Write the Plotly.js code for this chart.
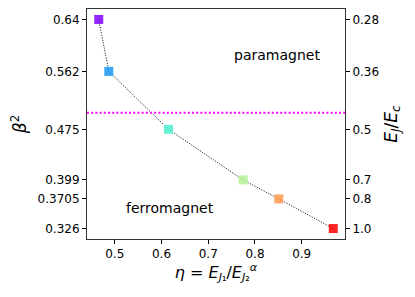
<!DOCTYPE html>
<html>
<head>
<meta charset="utf-8">
<script src="https://cdn.plot.ly/plotly-3.0.1.min.js"></script>
<style>html,body{margin:0;padding:0;background:#fff;}#chart{width:415px;height:297px;}</style>
</head>
<body>
<div id="chart"></div>
<script>
const eta = [0.4657, 0.4872, 0.615, 0.7747, 0.851, 0.9675];
const beta2 = [0.64, 0.562, 0.475, 0.399, 0.3705, 0.326];
const beta2Labels = ["0.64", "0.562", "0.475", "0.399", "0.3705", "0.326"];
const ejecLabels = ["0.28", "0.36", "0.5", "0.7", "0.8", "1.0"];
const colors = ["#8000ff", "#1996f3", "#4cf2ce", "#b2f295", "#ff964f", "#ff0000"];
const xTicks = [0.5, 0.6, 0.7, 0.8, 0.9];
const boundary = 0.5;

const font = "DejaVu Sans, sans-serif";
const yRange = [0.3103, 0.6557];

const traces = [
  {
    x: eta, y: beta2, type: "scatter", mode: "lines",
    line: {color: "#000", width: 1, dash: "1px,1.6px"},
    hoverinfo: "skip", showlegend: false
  },
  {
    x: eta, y: beta2, type: "scatter", mode: "markers",
    marker: {symbol: "square", size: 9, color: colors, opacity: 0.85, line: {width: 0}},
    showlegend: false
  },
  {
    x: eta, y: beta2, type: "scatter", mode: "markers", yaxis: "y2",
    marker: {size: 0, opacity: 0}, hoverinfo: "skip", showlegend: false
  }
];

const layout = {
  width: 415, height: 297,
  margin: {l: 87, r: 70, t: 9, b: 58},
  paper_bgcolor: "#fff", plot_bgcolor: "#fff",
  font: {family: font, size: 12, color: "#000"},
  xaxis: {
    range: [0.4406, 0.9926], tickvals: xTicks, ticktext: xTicks.map(v => v.toFixed(1)),
    showgrid: false, zeroline: false, showline: true, mirror: true, linecolor: "#333", linewidth: 1,
    ticks: "outside", ticklen: 4, tickcolor: "#000",
    title: {text: "<i>η</i> = <i>E</i><sub><i>J</i>₁</sub>/<i>E</i><sub><i>J</i>₂</sub><sup><i>α</i></sup>", font: {size: 16}, standoff: 6}
  },
  yaxis: {
    range: yRange, tickvals: beta2, ticktext: beta2Labels,
    showgrid: false, zeroline: false, showline: true, mirror: true, linecolor: "#333", linewidth: 1,
    ticks: "outside", ticklen: 4, tickcolor: "#000",
    title: {text: "<i>β</i><sup>2</sup>", font: {size: 17}, standoff: 6}
  },
  yaxis2: {
    range: yRange, overlaying: "y", side: "right", tickvals: beta2, ticktext: ejecLabels,
    showgrid: false, zeroline: false, showline: false,
    ticks: "outside", ticklen: 4, tickcolor: "#000",
    title: {text: "<i>E<sub>J</sub></i>/<i>E<sub>c</sub></i>", font: {size: 17}, standoff: 6}
  },
  shapes: [{
    type: "line", xref: "paper", x0: 0, x1: 1, yref: "y", y0: boundary, y1: boundary,
    line: {color: "#ff00ff", width: 2, dash: "2px,2.2px"}
  }],
  annotations: [
    {text: "paramagnet", x: 0.847, y: 0.5866, xref: "x", yref: "y", showarrow: false, font: {size: 14}},
    {text: "ferromagnet", x: 0.6178, y: 0.3575, xref: "x", yref: "y", showarrow: false, font: {size: 14}}
  ]
};

Plotly.newPlot("chart", traces, layout, {displayModeBar: false, staticPlot: true});
</script>
</body>
</html>
